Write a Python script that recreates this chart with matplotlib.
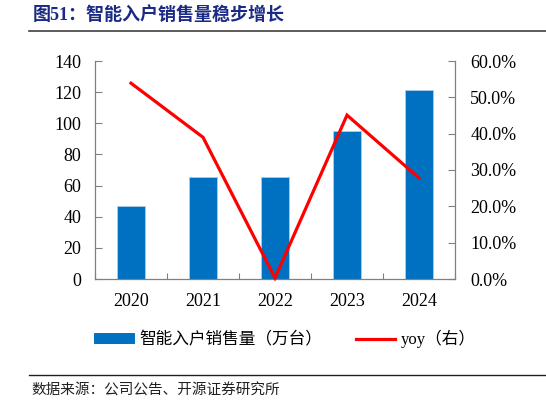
import matplotlib
matplotlib.use("Agg")
import matplotlib.pyplot as plt
from matplotlib.lines import Line2D
from matplotlib.ticker import FuncFormatter, FixedLocator
import numpy as np

years = ["2020", "2021", "2022", "2023", "2024"]
sales = [46.8, 65.4, 65.6, 95.1, 121.5]
yoy = [53.9, 39.0, 0.3, 45.1, 27.8]

title = "图51：智能入户销售量稳步增长"
source = "数据来源：公司公告、开源证券研究所"
bar_label = "智能入户销售量（万台）"
line_label = "yoy（右）"

CJK = ["Noto Sans CJK SC", "DejaVu Sans"]
SERIF = ["Liberation Serif", "Noto Sans CJK SC", "DejaVu Sans"]

plt.rcParams["font.family"] = SERIF

fig = plt.figure(figsize=(5.46, 4.05), dpi=100)
W, H = 546, 405
ax = fig.add_axes([95 / W, 1 - 279 / H, (455 - 95) / W, (279 - 61) / H])
ax2 = ax.twinx()

x = np.arange(len(years))
bars = ax.bar(x, sales, width=0.4, color="#0070C0", edgecolor="#A6CBEB",
              linewidth=0.7, label=bar_label, zorder=2)
ln, = ax2.plot(x, yoy, color="#FF0000", linewidth=2.3, label=line_label,
               clip_on=False, zorder=3, solid_joinstyle="miter")

ax.set_xlim(-0.5, len(years) - 0.5)
ax.set_ylim(0, 140)
ax.set_yticks(np.arange(0, 141, 20))
ax2.set_ylim(0, 60)
ax2.set_yticks(np.arange(0, 61, 10))
ax2.yaxis.set_major_formatter(FuncFormatter(lambda v, p: f"{v:.1f}%"))

# x ticks: boundaries (inward marks), labels at centers
ax.xaxis.set_major_locator(FixedLocator(np.arange(-0.5, len(years), 1.0)))
ax.xaxis.set_minor_locator(FixedLocator(x))
ax.set_xticklabels([])
ax.set_xticklabels(years, minor=True)
ax.tick_params(axis="x", which="major", direction="in", length=4, width=0.8,
               color="#808080")
ax.tick_params(axis="x", which="minor", length=0, pad=10, labelsize=13)

ax.tick_params(axis="y", direction="in", length=5, width=0.8, color="#808080",
               pad=10, labelsize=13)
ax2.tick_params(axis="y", direction="in", length=5, width=0.8, color="#808080",
                pad=11, labelsize=13)

for a in (ax, ax2):
    a.spines["top"].set_visible(False)
    for s in ("left", "right", "bottom"):
        a.spines[s].set_color("#808080")
        a.spines[s].set_linewidth(0.9)
ax.spines["right"].set_visible(False)
ax2.spines["left"].set_visible(False)
ax2.spines["bottom"].set_visible(False)

# Legend
leg = fig.legend([bars, ln], [bar_label, line_label], loc="center",
                 bbox_to_anchor=(285 / W, 1 - 339 / H), ncol=2, frameon=False,
                 prop={"family": CJK, "size": 12}, handlelength=2.35,
                 handleheight=0.5, handletextpad=0.35, columnspacing=2.0)
for t in leg.get_texts():
    if t.get_text().startswith("yoy"):
        t.set_fontfamily(SERIF)
for h in leg.legend_handles:
    if hasattr(h, "set_edgecolor"):
        try:
            h.set_edgecolor("#0070C0")
        except Exception:
            pass

# Title, rules, source
fig.text(33 / W, 1 - 15 / H, title, fontsize=13, fontweight="bold",
         color="#1B2A84", family=["Liberation Serif", "Noto Sans CJK SC"],
         va="center", ha="left")
fig.add_artist(Line2D([29 / W, 1.0], [1 - 31 / H, 1 - 31 / H],
                      color="#404040", linewidth=1.2))
fig.add_artist(Line2D([29 / W, 1.0], [1 - 375 / H, 1 - 375 / H],
                      color="#202020", linewidth=1.0))
fig.text(31 / W, 1 - 391 / H, source, fontsize=10.5, color="#202020",
         family=CJK, va="center", ha="left")

fig.savefig("out.png", dpi=100)
